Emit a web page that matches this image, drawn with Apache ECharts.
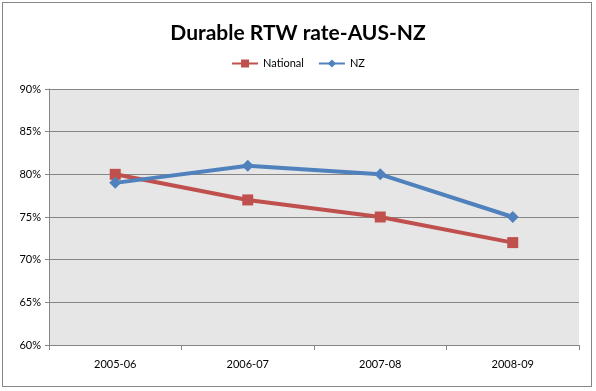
<!DOCTYPE html>
<html><head><meta charset="utf-8">
<script src="https://cdn.jsdelivr.net/npm/echarts@6/dist/echarts.min.js"></script>
<style>html,body{margin:0;padding:0;background:#fff}
#wrap{position:absolute;left:2px;top:2px;width:590px;height:385px;border:1px solid #868686;box-sizing:border-box}
#c{position:absolute;left:0;top:0;width:596px;height:391px}</style></head>
<body><div id="c"></div><div id="wrap"></div>
<script>
const categories = ['2005-06','2006-07','2007-08','2008-09'];
const national = [80, 77, 75, 72];
const nz = [79, 81, 80, 75];
const yTicks = {min:60, max:90, interval:5};
const chart = echarts.init(document.getElementById('c'));
const font = 'Lato, "Open Sans", sans-serif';
chart.setOption({
  animation:false,
  title:{text:'Durable RTW rate-AUS-NZ',left:'center',top:18,textStyle:{fontFamily:font,fontSize:21,fontWeight:'bold',color:'#000'}},
  legend:{top:53,left:'center',itemWidth:26,itemHeight:10,itemGap:14,textStyle:{fontFamily:font,fontSize:11,color:'#000'},
    data:['National','NZ']},
  grid:{left:49,right:17,top:89,bottom:46,show:true,backgroundColor:'#e6e6e6',borderWidth:0},
  xAxis:{type:'category',data:categories,boundaryGap:true,
    axisLine:{lineStyle:{color:'#868686',width:1}},
    axisTick:{show:true,length:5,lineStyle:{color:'#868686'}},
    axisLabel:{color:'#000',fontFamily:font,fontSize:11,margin:14}},
  yAxis:{type:'value',min:yTicks.min,max:yTicks.max,interval:yTicks.interval,
    axisLine:{show:true,lineStyle:{color:'#868686'}},
    axisTick:{show:true,length:4,lineStyle:{color:'#868686'}},
    splitLine:{lineStyle:{color:'#868686',width:1}},
    axisLabel:{formatter:'{value}%',color:'#000',fontFamily:font,fontSize:11,margin:8}},
  series:[
    {name:'National',type:'line',data:national,symbol:'rect',symbolSize:11,
     lineStyle:{color:'#C0504D',width:4},itemStyle:{color:'#C0504D'}},
    {name:'NZ',type:'line',data:nz,symbol:'diamond',symbolSize:12,
     lineStyle:{color:'#4F81BD',width:4},itemStyle:{color:'#4F81BD'}}
  ]
});
</script></body></html>
